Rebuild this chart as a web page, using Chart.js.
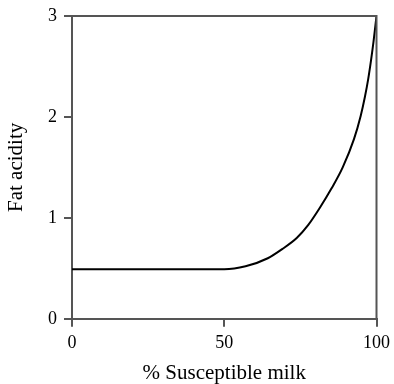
<!DOCTYPE html>
<html>
<head>
<meta charset="utf-8">
<script src="https://cdn.jsdelivr.net/npm/chart.js@4.4.1/dist/chart.umd.min.js"></script>
<style>
  body { margin: 0; background: #fff; }
  canvas { display: block; }
</style>
</head>
<body>
<canvas id="fatChart" width="394" height="384"></canvas>
<script>
// values
var milkPct = [0, 50, 57, 64.3, 69, 73.8, 77.6, 81.4, 85.2, 88.9, 92.6, 94.8, 96.2, 97.3, 98.2, 99, 100];
var fatAcidity = [0.49, 0.49, 0.52, 0.60, 0.69, 0.80, 0.93, 1.10, 1.29, 1.50, 1.78, 2.01, 2.20, 2.38, 2.56, 2.74, 3.0];

var xTicks = [0, 50, 100];
var yTicks = [0, 1, 2, 3];

var axisColor = '#555';
var serif = '"Liberation Serif", "DejaVu Serif", serif';
var xTickFont = { family: serif, size: 18, lineHeight: 1.4 };
var yTickFont = { family: serif, size: 18, lineHeight: 1 };
var titleFont = { family: serif, size: 21, lineHeight: 1 };

// draws the top and right edges of the frame
var frameBox = {
    id: 'frameBox',
    afterDraw: function (chart) {
        var a = chart.chartArea;
        var c = chart.ctx;
        c.save();
        c.strokeStyle = axisColor;
        c.lineWidth = 2;
        c.beginPath();
        c.moveTo(a.left, a.top);
        c.lineTo(a.right, a.top);
        c.lineTo(a.right, a.bottom);
        c.stroke();
        c.restore();
    }
};

var ctx = document.getElementById('fatChart').getContext('2d');

var fatChart = new Chart(ctx, {
    type: 'line',
    data: {
        datasets: [{
            data: milkPct.map((x, i) => ({ x: x, y: fatAcidity[i] })),
            borderColor: '#000',
            borderWidth: 2,
            pointRadius: 0,
            cubicInterpolationMode: 'monotone',
            fill: false
        }]
    },
    options: {
        responsive: false,
        animation: false,
        layout: { padding: { top: 11, right: 14, left: 6, bottom: 0 } },
        scales: {
            x: {
                type: 'linear',
                min: 0,
                max: 100,
                afterBuildTicks: function (axis) { axis.ticks = xTicks.map(v => ({ value: v })); },
                ticks: { color: '#000', font: xTickFont, padding: 4, maxRotation: 0 },
                grid: { drawOnChartArea: false, drawTicks: true, tickLength: 8, color: axisColor, lineWidth: 2 },
                border: { display: true, color: axisColor, width: 2 },
                title: { display: true, text: '% Susceptible milk', color: '#000', font: titleFont, padding: { top: 3, bottom: 0 } }
            },
            y: {
                min: 0,
                max: 3,
                afterBuildTicks: function (axis) { axis.ticks = yTicks.map(v => ({ value: v })); },
                ticks: { color: '#000', font: yTickFont, padding: 7 },
                grid: { drawOnChartArea: false, drawTicks: true, tickLength: 8, color: axisColor, lineWidth: 2 },
                border: { display: true, color: axisColor, width: 2 },
                title: { display: true, text: 'Fat acidity', color: '#000', font: titleFont, padding: { top: 0, bottom: 14 } }
            }
        },
        plugins: {
            legend: { display: false },
            tooltip: { enabled: false }
        }
    },
    plugins: [frameBox]
});
</script>
</body>
</html>
